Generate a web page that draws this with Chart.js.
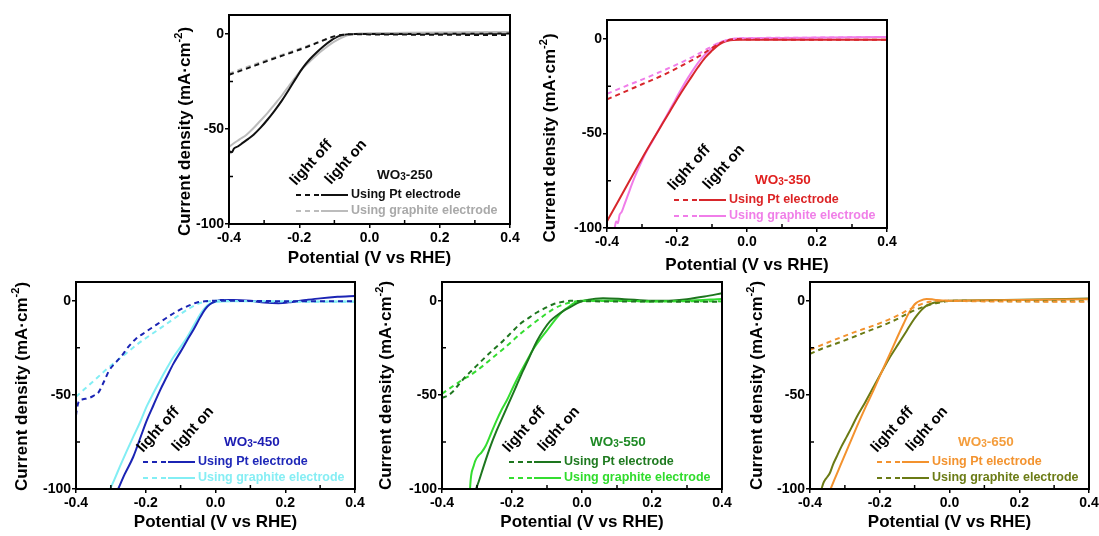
<!DOCTYPE html>
<html>
<head>
<meta charset="utf-8">
<script src="https://cdn.jsdelivr.net/npm/chart.js@4.4.1/dist/chart.umd.min.js"></script>
<style>
  html, body { margin: 0; padding: 0; background: #fff; }
  body { width: 1099px; height: 536px; position: relative; overflow: hidden; }
  canvas { position: absolute; }
</style>
</head>
<body>
<canvas id="c250"></canvas>
<canvas id="c350"></canvas>
<canvas id="c450"></canvas>
<canvas id="c550"></canvas>
<canvas id="c650"></canvas>
<script>
// Axis ticks: potential (V vs RHE) and current density (mA·cm-2)
const xTicks = [-0.4, -0.2, 0, 0.2, 0.4];
const xMinorTicks = [-0.3, -0.1, 0.1, 0.3];
const yTicks = [-100, -50, 0];
const yMinorTicks = [-75, -25];

// Polarisation curves, [potential, current density]; "Off" = dark, "On" = illuminated
// WO3-250
const pt250Off = [[-0.4,-21.5],[-0.35,-18.2],[-0.3,-14.8],[-0.25,-11.5],[-0.2,-8.3],[-0.16,-5.5],[-0.13,-3.2],[-0.11,-1.8],[-0.09,-0.8],[-0.07,-0.3],[-0.04,-0.1],[0,-0.2],[0.2,-0.4],[0.4,-0.6]];
const gr250Off = [[-0.4,-20.8],[-0.35,-17.5],[-0.3,-14.2],[-0.25,-11],[-0.2,-7.8],[-0.16,-5.2],[-0.13,-3.2],[-0.11,-1.9],[-0.09,-0.9],[-0.07,-0.3],[-0.04,0],[0,0.3],[0.2,0.6],[0.4,1]];
const pt250On = [[-0.4,-63.5],[-0.397,-61.8],[-0.392,-62.2],[-0.386,-60.3],[-0.375,-59.2],[-0.36,-57.2],[-0.345,-55.2],[-0.33,-53],[-0.31,-49.3],[-0.29,-45],[-0.27,-40.3],[-0.25,-35.2],[-0.23,-29.5],[-0.21,-23.5],[-0.19,-17.8],[-0.17,-13.3],[-0.15,-9.6],[-0.13,-6.3],[-0.11,-3.5],[-0.095,-1.8],[-0.08,-0.7],[-0.065,-0.2],[-0.05,0],[0,0],[0.2,0.1],[0.4,0.2]];
const gr250On = [[-0.4,-59.5],[-0.39,-58],[-0.37,-55.5],[-0.35,-53],[-0.33,-49.5],[-0.31,-45.5],[-0.29,-41.5],[-0.27,-37],[-0.25,-32.5],[-0.23,-27.5],[-0.21,-22.5],[-0.19,-18],[-0.17,-14.5],[-0.15,-11],[-0.13,-8],[-0.11,-5.2],[-0.09,-3],[-0.075,-1.6],[-0.06,-0.6],[-0.045,-0.1],[-0.03,0.2],[0.1,0.6],[0.4,1]];

// WO3-350
const pt350Off = [[-0.4,-32],[-0.35,-28],[-0.3,-24],[-0.25,-20],[-0.2,-15.5],[-0.15,-10.5],[-0.12,-7.2],[-0.1,-4.8],[-0.08,-2.6],[-0.065,-1.3],[-0.05,-0.5],[-0.03,-0.1],[0,-0.3],[0.2,-0.4],[0.4,-0.5]];
const gr350Off = [[-0.4,-29],[-0.35,-25.2],[-0.3,-21.5],[-0.25,-17.6],[-0.2,-13.5],[-0.15,-9],[-0.12,-6],[-0.1,-3.9],[-0.08,-2],[-0.06,-0.8],[-0.045,-0.2],[-0.03,0.2],[0,0.4],[0.2,0.7],[0.4,1]];
const pt350On = [[-0.4,-96.5],[-0.37,-86.5],[-0.34,-76.5],[-0.31,-66.5],[-0.28,-56.8],[-0.25,-47.5],[-0.22,-38.2],[-0.19,-29],[-0.16,-20.5],[-0.14,-15],[-0.12,-10],[-0.1,-6.2],[-0.085,-3.7],[-0.07,-2],[-0.055,-1],[-0.04,-0.6],[-0.02,-0.5],[0.2,-0.5],[0.4,-0.5]];
const gr350On = [[-0.378,-100],[-0.374,-96.5],[-0.369,-97.5],[-0.364,-93],[-0.358,-91.5],[-0.35,-87.5],[-0.34,-82.5],[-0.325,-75],[-0.31,-68.5],[-0.29,-60.5],[-0.27,-54],[-0.25,-47.3],[-0.23,-40.8],[-0.21,-34],[-0.19,-27.3],[-0.17,-21],[-0.15,-15.3],[-0.13,-10.3],[-0.11,-6.5],[-0.095,-4],[-0.08,-2.3],[-0.065,-1.1],[-0.05,-0.3],[-0.03,0.2],[0.1,0.5],[0.4,1]];

// WO3-450
const pt450Off = [[-0.4,-61],[-0.397,-57],[-0.392,-53.5],[-0.38,-52.3],[-0.365,-51.8],[-0.35,-50.5],[-0.335,-48.5],[-0.32,-43],[-0.305,-37],[-0.29,-33.5],[-0.27,-29.5],[-0.25,-24.5],[-0.23,-20.5],[-0.2,-16.5],[-0.17,-12.8],[-0.14,-9],[-0.11,-5.5],[-0.08,-2.8],[-0.055,-1],[-0.03,-0.2],[0,0],[0.2,-0.2],[0.4,-0.3]];
const gr450Off = [[-0.4,-51],[-0.37,-46],[-0.34,-41],[-0.31,-36],[-0.28,-31.5],[-0.25,-27],[-0.22,-22.5],[-0.19,-18.6],[-0.16,-14.8],[-0.13,-10.9],[-0.1,-7],[-0.075,-4],[-0.05,-1.6],[-0.025,-0.4],[0,0],[0.2,-0.4],[0.4,-0.5]];
const pt450On = [[-0.279,-100],[-0.26,-92],[-0.236,-83],[-0.215,-72.5],[-0.197,-63.5],[-0.178,-55.5],[-0.159,-47.6],[-0.14,-40.5],[-0.121,-33.5],[-0.1,-27],[-0.082,-21.2],[-0.062,-15],[-0.044,-8.8],[-0.03,-4.5],[-0.016,-1.8],[0,-0.3],[0.015,0.4],[0.05,0.5],[0.1,0],[0.14,-0.9],[0.18,-1.3],[0.22,-0.6],[0.26,0.4],[0.3,1.3],[0.35,2.1],[0.4,2.5]];
const gr450On = [[-0.302,-100],[-0.29,-95],[-0.274,-88],[-0.255,-80],[-0.236,-72.3],[-0.215,-64],[-0.197,-56],[-0.178,-49],[-0.159,-42.3],[-0.14,-36],[-0.121,-30],[-0.1,-24.5],[-0.082,-19.5],[-0.062,-13],[-0.044,-7.2],[-0.03,-3.6],[-0.016,-1.5],[0,-0.6],[0.05,-0.2],[0.2,-0.3],[0.4,-0.4]];

// WO3-550
const pt550Off = [[-0.4,-51.5],[-0.385,-50.5],[-0.37,-48.5],[-0.358,-45.8],[-0.34,-41.8],[-0.32,-37.9],[-0.3,-34.3],[-0.282,-31],[-0.255,-26.2],[-0.225,-21.2],[-0.2,-16.5],[-0.177,-12.3],[-0.15,-8.8],[-0.129,-6.2],[-0.105,-3.8],[-0.082,-1.8],[-0.06,-0.7],[-0.034,0],[0,-0.2],[0.2,-0.4],[0.4,-0.5]];
const gr550Off = [[-0.4,-49.4],[-0.38,-46.8],[-0.358,-44],[-0.34,-41.8],[-0.32,-39.7],[-0.3,-37],[-0.282,-34.4],[-0.255,-30.2],[-0.225,-25.6],[-0.2,-21.5],[-0.177,-17.6],[-0.15,-13.6],[-0.129,-10.6],[-0.105,-7.3],[-0.082,-4.4],[-0.06,-2.4],[-0.034,-0.9],[-0.015,-0.2],[0,0],[0.2,-0.2],[0.4,-0.3]];
const pt550On = [[-0.303,-100],[-0.295,-96],[-0.282,-88.5],[-0.263,-78],[-0.244,-69],[-0.225,-61],[-0.206,-53],[-0.187,-45],[-0.168,-37],[-0.148,-29],[-0.129,-21.5],[-0.11,-15.5],[-0.091,-10.8],[-0.07,-7.5],[-0.053,-5.3],[-0.03,-3],[-0.015,-1.4],[0,-0.3],[0.015,0.5],[0.06,1.4],[0.12,0.9],[0.2,0],[0.26,0.2],[0.3,0.9],[0.35,2.3],[0.4,4]];
const gr550On = [[-0.32,-100],[-0.318,-95],[-0.315,-91],[-0.31,-88],[-0.305,-85],[-0.297,-82.5],[-0.287,-80.5],[-0.275,-77],[-0.26,-70.5],[-0.244,-63.5],[-0.23,-58],[-0.215,-53],[-0.196,-45.5],[-0.177,-38.5],[-0.158,-32],[-0.139,-25.6],[-0.12,-20.5],[-0.101,-16],[-0.082,-11.3],[-0.063,-7],[-0.048,-4.5],[-0.034,-2.6],[-0.02,-1],[-0.005,0],[0.1,0.2],[0.2,-0.3],[0.3,0],[0.4,1]];

// WO3-650
const pt650Off = [[-0.4,-26.1],[-0.36,-23],[-0.314,-19.6],[-0.27,-16.5],[-0.218,-13.2],[-0.19,-11.2],[-0.171,-9.7],[-0.145,-7.5],[-0.123,-5.3],[-0.1,-3.3],[-0.085,-2.1],[-0.07,-1.1],[-0.056,-0.5],[-0.035,0],[0.1,-0.3],[0.4,-0.5]];
const gr650Off = [[-0.4,-28.2],[-0.36,-25],[-0.314,-22],[-0.27,-18.8],[-0.218,-15],[-0.19,-13],[-0.171,-11.5],[-0.145,-9.2],[-0.123,-7],[-0.1,-5],[-0.075,-3.2],[-0.05,-1.7],[-0.027,-0.9],[-0.01,-0.3],[0,0],[0.2,-0.2],[0.4,-0.3]];
const pt650On = [[-0.341,-100],[-0.33,-95],[-0.314,-88],[-0.29,-77.5],[-0.266,-67],[-0.242,-57],[-0.218,-47.6],[-0.195,-38],[-0.171,-28.2],[-0.15,-19.5],[-0.132,-12.3],[-0.118,-7],[-0.104,-2.8],[-0.095,-1.1],[-0.085,0],[-0.066,0.9],[-0.05,0.8],[-0.037,0.4],[0,0.1],[0.2,0.4],[0.4,0.8]];
const gr650On = [[-0.367,-100],[-0.362,-97],[-0.357,-95.2],[-0.35,-93.5],[-0.343,-91.5],[-0.334,-87],[-0.324,-83],[-0.31,-77.5],[-0.295,-72.3],[-0.28,-67],[-0.266,-61.7],[-0.242,-54],[-0.218,-45.8],[-0.195,-38],[-0.171,-30],[-0.147,-23],[-0.123,-16],[-0.108,-11.5],[-0.094,-7.9],[-0.08,-4.8],[-0.066,-2.6],[-0.045,-1],[-0.027,-0.4],[0,0],[0.2,0.6],[0.4,1.2]];

// Page layout of each panel's plot box, colours and label nudges
const panels = [
  { id: 'c250', sample: '250', box: { left: 229, top: 15, right: 510, bottom: 224 },
    pt: '#111111', gr: '#bcbcbc', nameColor: '#111111', ptText: '#111111', grText: '#a9a9a9',
    curves: [pt250Off, gr250Off, pt250On, gr250On], yGap: 44, yShift: 12, xGap: 34 },
  { id: 'c350', sample: '350', box: { left: 607, top: 20, right: 887, bottom: 228 },
    pt: '#d7262b', gr: '#f07de9', nameColor: '#e0201f', ptText: '#dc2426', grText: '#f07fe8',
    curves: [pt350Off, gr350Off, pt350On, gr350On], yGap: 57, yShift: 14, xGap: 37 },
  { id: 'c450', sample: '450', box: { left: 76, top: 282, right: 355, bottom: 489 },
    pt: '#1b24b4', gr: '#82eef4', nameColor: '#1d1db2', ptText: '#1f28b8', grText: '#86eef4',
    curves: [pt450Off, gr450Off, pt450On, gr450On], yGap: 54, yShift: 1, xGap: 33 },
  { id: 'c550', sample: '550', box: { left: 442, top: 282, right: 722, bottom: 489 },
    pt: '#1d761e', gr: '#34dd30', nameColor: '#1f8a26', ptText: '#1f7a20', grText: '#30dc2c',
    curves: [pt550Off, gr550Off, pt550On, gr550On], yGap: 56, yShift: 0, xGap: 33 },
  { id: 'c650', sample: '650', box: { left: 810, top: 282, right: 1089, bottom: 489 },
    pt: '#f3922e', gr: '#6a7a14', nameColor: '#f49d3c', ptText: '#f3932f', grText: '#6c7c16',
    curves: [pt650Off, gr650Off, pt650On, gr650On], yGap: 53, yShift: 0, xGap: 33 }
];

const PAD_L = 72, PAD_T = 12, PAD_R = 14, PAD_B = 47;
const FAMILY = '"Liberation Sans", Arial, Helvetica, sans-serif';
const tickFont = { family: FAMILY, size: 14, weight: 'bold' };

// Offsets of the in-plot annotations from the plot's top-left corner
const NOTE = { offX: 67, offY: 171, onX: 102, onY: 170, angle: -48,
               nameX: 148, nameY: 160, rowY: [180, 196], dashX: 67, solidX: 92, endX: 119, textX: 122 };

function drawParts(ctx, x, y, parts) {
  let cx = x;
  parts.forEach(p => {
    ctx.font = `bold ${p.size}px ${FAMILY}`;
    ctx.fillText(p.t, cx, y + (p.dy || 0));
    cx += ctx.measureText(p.t).width;
  });
  return cx - x;
}
function partsWidth(ctx, parts) {
  let w = 0;
  parts.forEach(p => { ctx.font = `bold ${p.size}px ${FAMILY}`; w += ctx.measureText(p.t).width; });
  return w;
}

const decor = {
  id: 'decor',
  afterDraw(chart, args, o) {
    const { ctx, chartArea: a, scales: { x, y } } = chart;
    ctx.save();

    // frame around the plot
    ctx.strokeStyle = '#000';
    ctx.lineWidth = 2;
    ctx.setLineDash([]);
    ctx.strokeRect(a.left, a.top, a.right - a.left, a.bottom - a.top);

    // inward minor ticks
    ctx.lineWidth = 1.5;
    ctx.beginPath();
    xMinorTicks.forEach(v => { const px = x.getPixelForValue(v); ctx.moveTo(px, a.bottom); ctx.lineTo(px, a.bottom - 4); });
    yMinorTicks.forEach(v => { const py = y.getPixelForValue(v); ctx.moveTo(a.left, py); ctx.lineTo(a.left + 4, py); });
    ctx.stroke();

    ctx.fillStyle = '#000';
    ctx.textBaseline = 'middle';
    ctx.textAlign = 'left';

    // x axis title
    ctx.font = `bold 17px ${FAMILY}`;
    const xt = 'Potential (V vs RHE)';
    const xw = ctx.measureText(xt).width;
    ctx.fillText(xt, (a.left + a.right) / 2 - xw / 2, a.bottom + o.xGap);

    // y axis title with superscript
    const yParts = [
      { t: 'Current density (mA·cm', size: 17 },
      { t: '-2', size: 11, dy: -6 },
      { t: ')', size: 17 }
    ];
    const yw = partsWidth(ctx, yParts);
    ctx.save();
    ctx.translate(a.left - o.yGap, (a.top + a.bottom) / 2 + o.yShift);
    ctx.rotate(-Math.PI / 2);
    drawParts(ctx, -yw / 2, 0, yParts);
    ctx.restore();

    // light off / light on
    ctx.textBaseline = 'alphabetic';
    ctx.font = `bold 15px ${FAMILY}`;
    [['light off', NOTE.offX, NOTE.offY], ['light on', NOTE.onX, NOTE.onY]].forEach(([t, dx, dy]) => {
      ctx.save();
      ctx.translate(a.left + dx, a.top + dy);
      ctx.rotate(NOTE.angle * Math.PI / 180);
      ctx.fillText(t, 0, 0);
      ctx.restore();
    });

    // sample name
    ctx.textBaseline = 'middle';
    ctx.fillStyle = o.nameColor;
    drawParts(ctx, a.left + NOTE.nameX, a.top + NOTE.nameY, [
      { t: 'WO', size: 13.5 }, { t: '3', size: 10, dy: 2.5 }, { t: '-' + o.sample, size: 13.5 }
    ]);

    // key: dashed (light off) + solid (light on) segment per electrode
    const rows = [[o.pt, o.ptText, 'Using Pt electrode'], [o.gr, o.grText, 'Using graphite electrode']];
    rows.forEach(([lineColor, textColor, text], i) => {
      const ry = a.top + NOTE.rowY[i];
      ctx.strokeStyle = lineColor;
      ctx.lineWidth = 2;
      ctx.setLineDash([5, 4]);
      ctx.beginPath();
      ctx.moveTo(a.left + NOTE.dashX, ry);
      ctx.lineTo(a.left + NOTE.solidX - 1, ry);
      ctx.stroke();
      ctx.setLineDash([]);
      ctx.beginPath();
      ctx.moveTo(a.left + NOTE.solidX, ry);
      ctx.lineTo(a.left + NOTE.endX, ry);
      ctx.stroke();
      ctx.fillStyle = textColor;
      ctx.font = `bold 12.5px ${FAMILY}`;
      ctx.fillText(text, a.left + NOTE.textX, ry);
    });

    ctx.restore();
  }
};

function series(label, pts, color, dashed) {
  return {
    label,
    data: pts.map(([x, y]) => ({ x, y })),
    borderColor: color,
    borderWidth: 2,
    borderDash: dashed ? [5, 4] : [],
    pointRadius: 0,
    fill: false,
    cubicInterpolationMode: 'monotone'
  };
}

panels.forEach(p => {
  const cv = document.getElementById(p.id);
  const W = (p.box.right - p.box.left) + PAD_L + PAD_R;
  const H = (p.box.bottom - p.box.top) + PAD_T + PAD_B;
  cv.width = W; cv.height = H;
  cv.style.width = W + 'px'; cv.style.height = H + 'px';
  cv.style.left = (p.box.left - PAD_L) + 'px';
  cv.style.top = (p.box.top - PAD_T) + 'px';

  const [ptOff, grOff, ptOn, grOn] = p.curves;
  new Chart(cv, {
    type: 'line',
    data: {
      datasets: [
        series('Pt, light off', ptOff, p.pt, true),
        series('graphite, light off', grOff, p.gr, true),
        series('Pt, light on', ptOn, p.pt, false),
        series('graphite, light on', grOn, p.gr, false)
      ]
    },
    options: {
      responsive: false,
      devicePixelRatio: 1,
      animation: false,
      layout: { padding: { left: 0, top: PAD_T, right: PAD_R, bottom: 0 } },
      plugins: {
        legend: { display: false },
        tooltip: { enabled: false },
        decor: { sample: p.sample, pt: p.pt, gr: p.gr, nameColor: p.nameColor, ptText: p.ptText,
                 grText: p.grText, yGap: p.yGap, yShift: p.yShift, xGap: p.xGap }
      },
      scales: {
        x: {
          type: 'linear', min: -0.4, max: 0.4,
          afterBuildTicks: s => { s.ticks = xTicks.map(v => ({ value: v })); },
          afterFit: s => { s.height = PAD_B; s.paddingLeft = 0; s.paddingRight = 0; },
          ticks: { font: tickFont, color: '#000', padding: 2, maxRotation: 0, autoSkip: false,
                   callback: v => Number(v).toFixed(1) },
          grid: { drawOnChartArea: false, drawTicks: true, tickLength: 4, color: '#000', lineWidth: 1.5 },
          border: { display: true, color: '#000', width: 2 },
          title: { display: false }
        },
        y: {
          type: 'linear', min: -100, max: 10,
          afterBuildTicks: s => { s.ticks = yTicks.map(v => ({ value: v })); },
          afterFit: s => { s.width = PAD_L; s.paddingTop = 0; s.paddingBottom = 0; },
          ticks: { font: tickFont, color: '#000', padding: 1, autoSkip: false, callback: v => String(v) },
          grid: { drawOnChartArea: false, drawTicks: true, tickLength: 4, color: '#000', lineWidth: 1.5 },
          border: { display: true, color: '#000', width: 2 },
          title: { display: false }
        }
      }
    },
    plugins: [decor]
  });
});
</script>
</body>
</html>
